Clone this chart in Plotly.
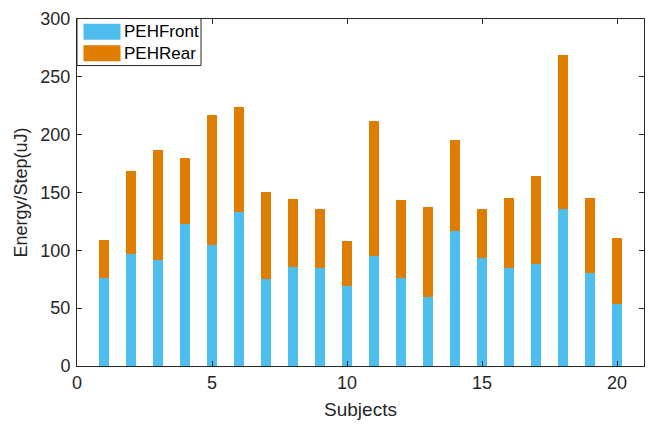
import plotly.graph_objects as go

subjects = list(range(1, 21))
peh_front = [76.3, 96.9, 91.3, 123.2, 104.5, 133.2, 75.1, 85.2, 84.6, 69.6,
             95.3, 76.3, 59.5, 117.0, 93.6, 84.6, 88.0, 135.5, 80.4, 53.4]
peh_total = [108.7, 168.2, 186.6, 179.9, 216.8, 223.5, 150.6, 144.7, 135.5, 107.8,
             211.7, 143.9, 137.2, 195.8, 135.5, 145.5, 164.0, 269.0, 145.5, 110.3]
peh_rear = [round(t - f, 1) for t, f in zip(peh_total, peh_front)]

series_names = ["PEHFront", "PEHRear"]
series_colors = ["#4DBEEE", "#DE7D00"]
x_ticks = [0, 5, 10, 15, 20]
y_ticks = [0, 50, 100, 150, 200, 250, 300]

FONT = "Liberation Sans, Arial, sans-serif"
AXIS_COLOR = "#262626"

W, H = 655, 426
ML, MR, MT, MB = 77, 11, 9, 59
PW, PH = W - ML - MR, H - MT - MB

fig = go.Figure()
for name, vals, col in zip(series_names, [peh_front, peh_rear], series_colors):
    fig.add_trace(go.Bar(x=subjects, y=vals, name=name, width=0.4,
                         marker=dict(color=col, line=dict(width=0)),
                         showlegend=False))

axis_common = dict(showline=True, linecolor=AXIS_COLOR, linewidth=1, mirror="ticks",
                   ticks="inside", ticklen=5, tickcolor=AXIS_COLOR, showgrid=False,
                   zeroline=False, ticklabeloverflow="allow",
                   tickfont=dict(family=FONT, size=18, color=AXIS_COLOR))

fig.update_layout(
    width=W, height=H,
    margin=dict(l=ML, r=MR, t=MT, b=MB),
    paper_bgcolor="white", plot_bgcolor="white",
    barmode="stack", bargap=0,
    xaxis=dict(range=[0, 21], tickvals=x_ticks, **axis_common,
               title=dict(text="Subjects", font=dict(family=FONT, size=19, color=AXIS_COLOR),
                          standoff=11)),
    yaxis=dict(range=[0, 300], tickvals=y_ticks, ticklabelstandoff=2, **axis_common,
               title=dict(text="Energy/Step(uJ)", font=dict(family=FONT, size=18, color=AXIS_COLOR),
                          standoff=8)),
)


# Legend box drawn in pixel space converted to paper coordinates
def px(xp):
    return (xp - ML) / PW


def py(yp):
    return (H - MB - yp) / PH


fig.add_shape(type="rect", xref="paper", yref="paper",
              x0=px(77), x1=px(201), y0=py(57), y1=py(8.5),
              line=dict(color=AXIS_COLOR, width=1), fillcolor="white")
for i, (name, col) in enumerate(zip(series_names, series_colors)):
    top = 14 + i * 22
    fig.add_shape(type="rect", xref="paper", yref="paper",
                  x0=px(83.5), x1=px(120.5), y0=py(top + 16.5), y1=py(top),
                  line=dict(width=0), fillcolor=col)
    fig.add_annotation(x=px(122), y=py(top + 8.3), xref="paper", yref="paper",
                       text=name, showarrow=False, xanchor="left", yanchor="middle",
                       font=dict(family=FONT, size=17, color="#000000"))

fig.write_html("out.html")
